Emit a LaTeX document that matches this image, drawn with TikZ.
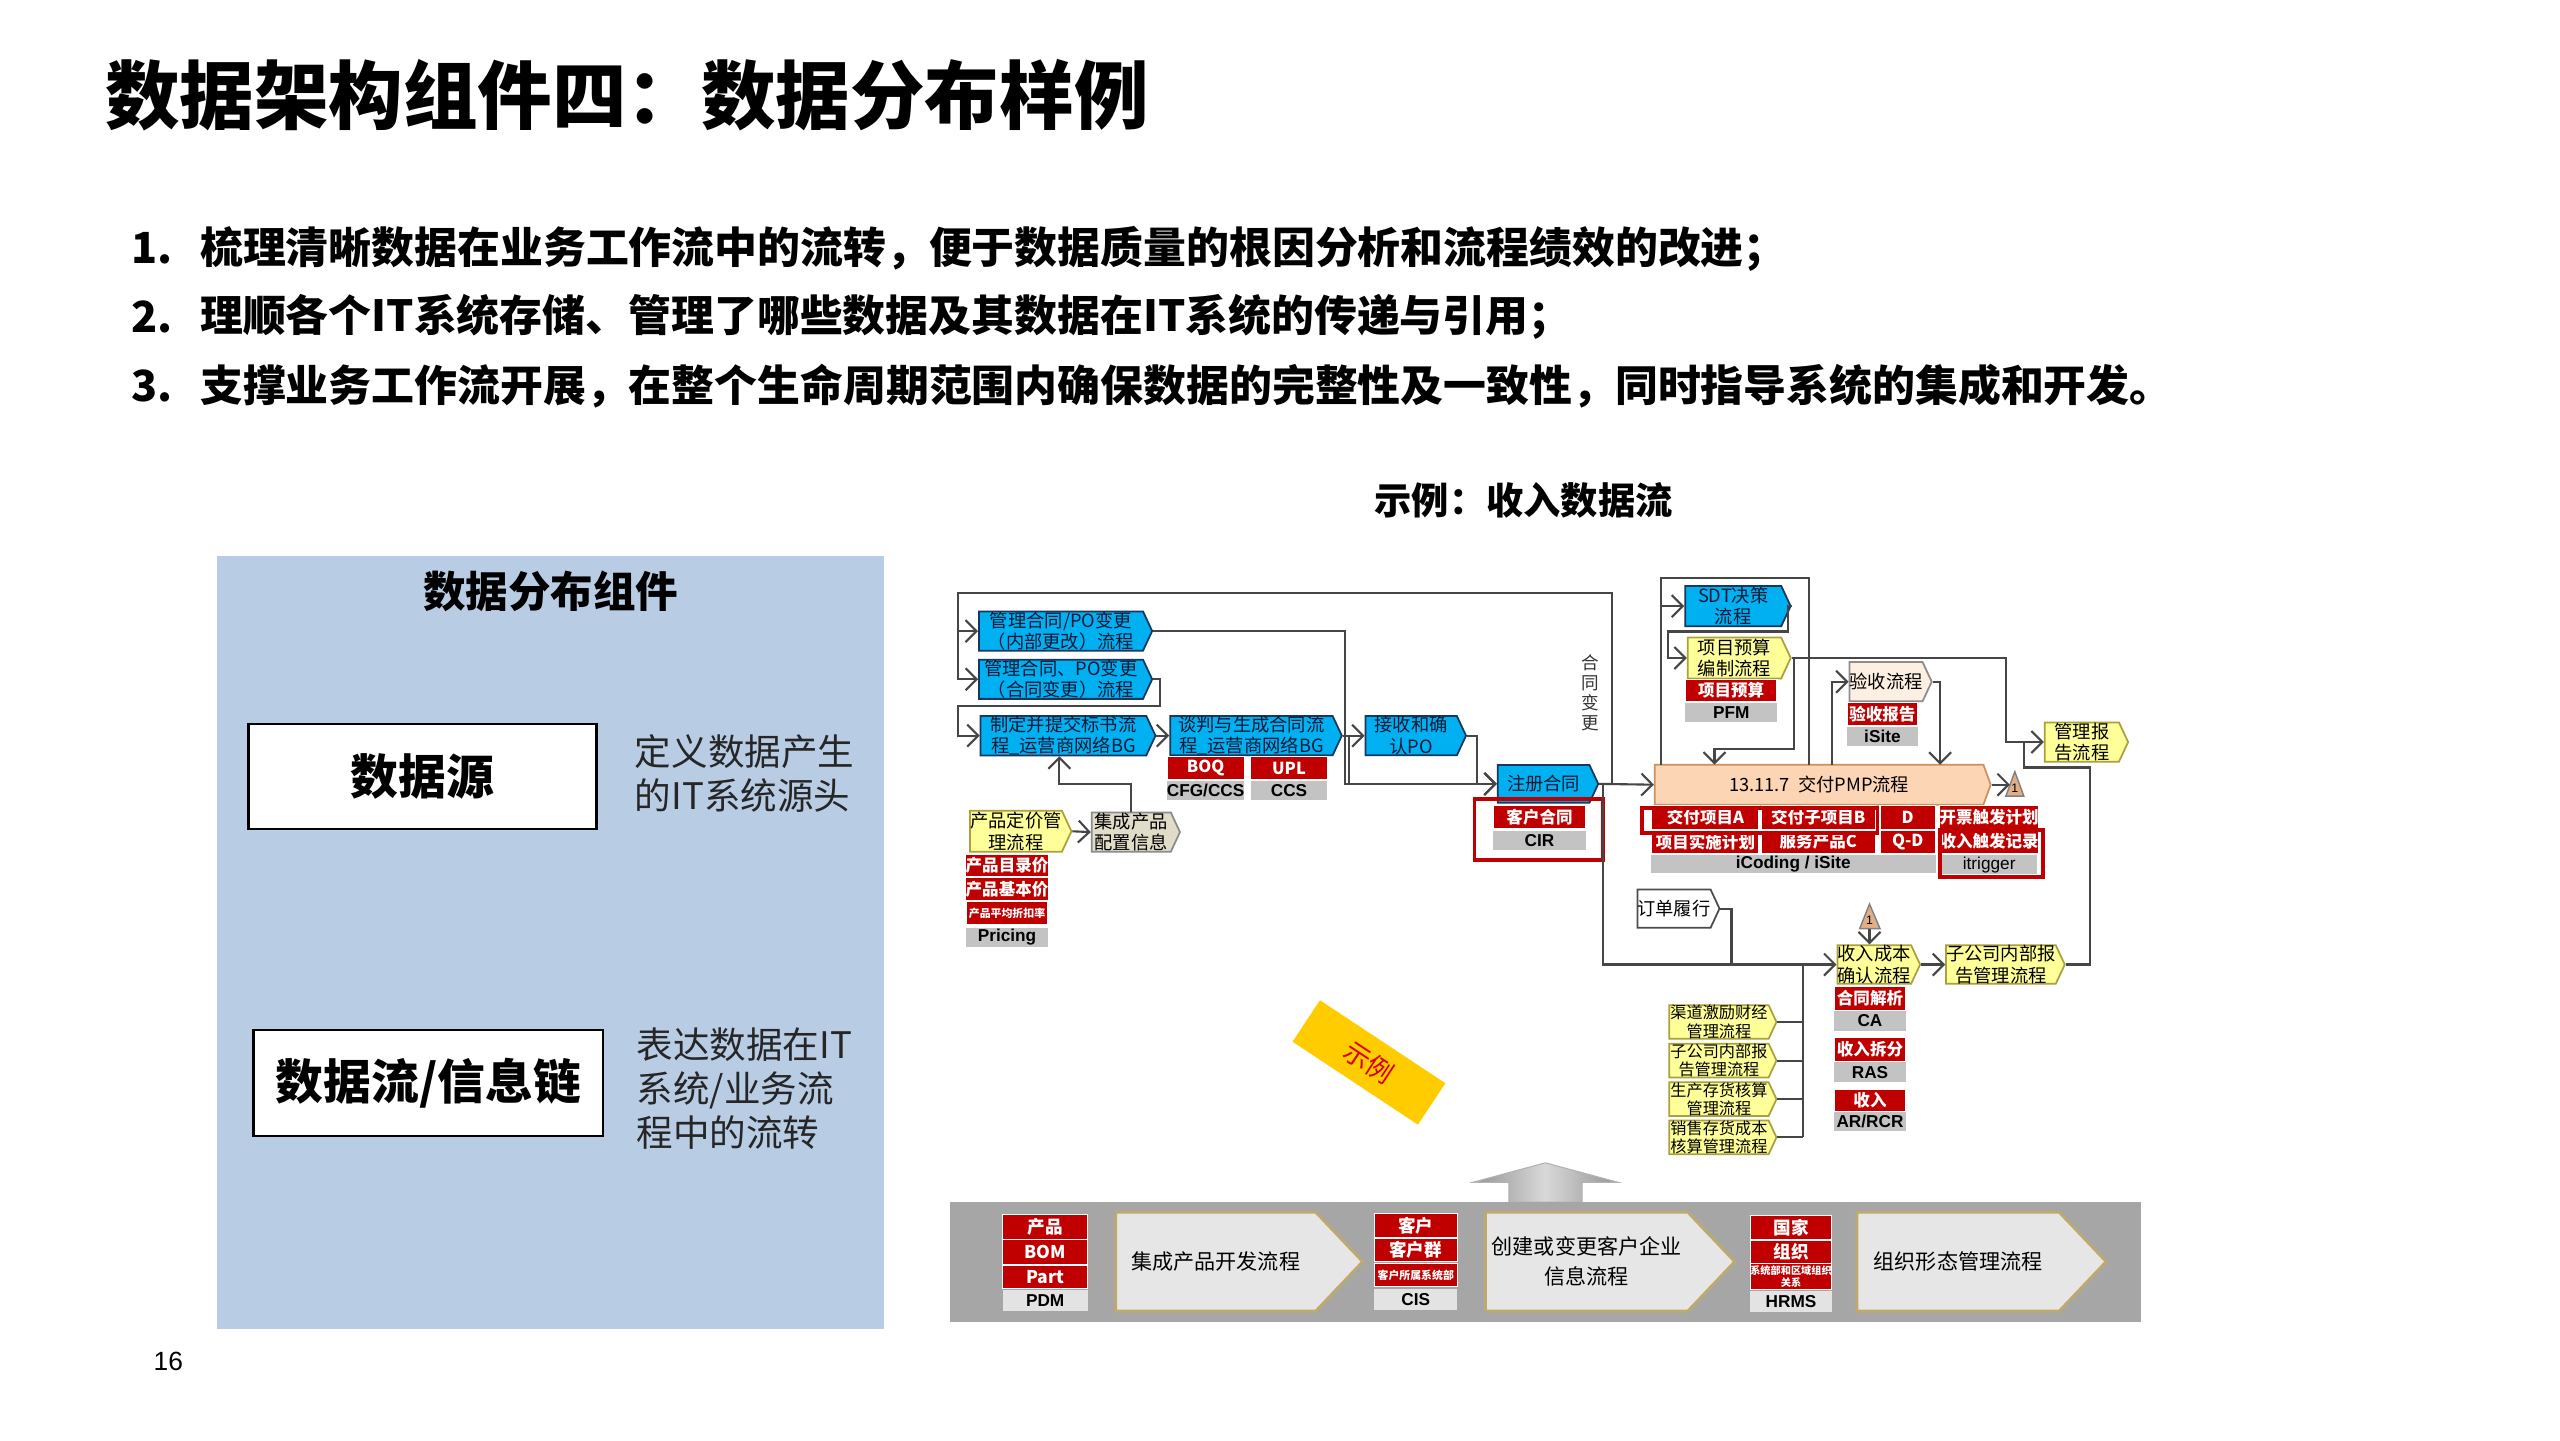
\documentclass[tikz,border=0pt]{standalone}
\usepackage{fontspec}
\setmainfont{Noto Sans CJK SC}
\newfontfamily\arialf{Liberation Sans}
\usepackage{tikz}
\usetikzlibrary{shapes,arrows.meta,backgrounds}
\usetikzlibrary{shapes.geometric, shapes.symbols}
\newcommand\upx{0.4651pt}
\definecolor{panelblue}{RGB}{184,204,228}
\definecolor{procblue}{RGB}{0,176,240}
\definecolor{procline}{RGB}{23,55,94}
\definecolor{proctext}{RGB}{15,25,55}
\definecolor{procyellow}{RGB}{255,255,153}
\definecolor{yline}{RGB}{170,160,60}
\definecolor{cellred}{RGB}{192,0,0}
\definecolor{cellgray}{RGB}{195,195,195}
\definecolor{pmporange}{RGB}{252,213,180}
\definecolor{pmpline}{RGB}{205,145,95}
\definecolor{beige}{RGB}{224,220,200}
\definecolor{cream}{RGB}{253,240,226}
\definecolor{bandgray}{RGB}{166,166,166}
\definecolor{bandfill}{RGB}{230,230,230}
\definecolor{bandline}{RGB}{190,170,110}
\definecolor{tagyellow}{RGB}{255,204,0}
\definecolor{trifill}{RGB}{225,175,135}
\definecolor{wireline}{RGB}{70,70,70}
\tikzset{
  sz/.style 2 args={ minimum width=#1*\upx, minimum height=#2*\upx }
}
\tikzset{
  bproc/.style={ signal, signal to=east, signal from=nowhere, signal pointer angle=130, draw=procline, line width=0.5pt, fill=procblue, text=proctext, inner sep=0pt, align=center, font=\fontsize{5.2}{6.1}\selectfont }
}
\tikzset{
  yproc/.style={ bproc, draw=yline, fill=procyellow, text=black }
}
\tikzset{
  bandproc/.style={ signal, signal to=east, signal from=nowhere, signal pointer angle=93, draw=bandline, line width=0.8pt, fill=bandfill, inner sep=0pt, align=center, font=\fontsize{6}{8.5}\selectfont }
}
\tikzset{
  redcell/.style={ rectangle, draw=white, line width=0.3pt, fill=cellred, text=white, inner sep=0pt, align=center, font=\fontsize{4.7}{5.2}\selectfont\bfseries }
}
\tikzset{
  graycell/.style={ rectangle, fill=cellgray, inner sep=0pt, font=\arialf\fontsize{4.9}{5.2}\selectfont\bfseries }
}
\tikzset{
  conn/.style={ draw=wireline, line width=0.6pt },
  redframe/.style={ draw=cellred, line width=1.1pt }
}
\tikzset{
  srcbox/.style={ draw=black, line width=0.7pt, fill=white, font=\fontsize{13.6}{15}\selectfont\bfseries },
  desc/.style={ anchor=west, align=left, inner sep=0pt, text=black!85, font=\fontsize{10.4}{12.6}\selectfont },
  bullet/.style={ anchor=west, inner sep=0pt, font=\fontsize{12.2}{14}\selectfont\bfseries }
}

\begin{document}
\begin{tikzpicture}[x=0.16347mm, y=-0.16347mm, >={Straight Barb[length=1.1mm,width=2.2mm]}]
  \fill[white] (0,0) rectangle (1566,881);
  \useasboundingbox (0,0) rectangle (1566,881);

  \node[anchor=west, inner sep=0pt, font=\fontsize{21.2}{24}\selectfont\bfseries] (title) at (64,58) {数据架构组件四：数据分布样例};
  \node[bullet] (n1) at (80,152) {1.};
  \node[bullet] (b1) at (122,152) {梳理清晰数据在业务工作流中的流转，便于数据质量的根因分析和流程绩效的改进；};
  \node[bullet] (n2) at (80,194) {2.};
  \node[bullet] (b2) at (122,194) {理顺各个IT系统存储、管理了哪些数据及其数据在IT系统的传递与引用；};
  \node[bullet] (n3) at (80,236) {3.};
  \node[bullet] (b3) at (122,236) {支撑业务工作流开展，在整个生命周期范围内确保数据的完整性及一致性，同时指导系统的集成和开发。};
  \node[font=\fontsize{10.6}{12}\selectfont\bfseries] (exhead) at (932,306) {示例：收入数据流};

  \node[fill=panelblue, sz={408}{473}] (panel) at (337,576.5) {};
  \node[font=\fontsize{12.1}{14}\selectfont\bfseries] (ptitle) at (337,362) {数据分布组件};
  \node[srcbox, sz={213}{64}] (src) at (258.5,475) {数据源};
  \node[srcbox, sz={214}{65}] (flow) at (262,662.5) {数据流/信息链};
  \node[desc] (srcdesc) at (388,473) {定义数据产生\\的IT系统源头};
  \node[desc] (flowdesc) at (389,666) {表达数据在IT\\系统/业务流\\程中的流转};
  \node[font=\arialf\fontsize{7.5}{9}\selectfont] (pageno) at (103,833) {16};

  \node[bproc, sz={106}{24}] (pA) at (649,386) {管理合同/PO变更\\（内部更改）流程};
  \node[bproc, sz={106}{24}] (pB) at (649,415.5) {管理合同、PO变更\\（合同变更）流程};
  \node[bproc, sz={107}{24}] (pC) at (650.5,450) {制定并提交标书流\\程\_运营商网络BG};
  \node[bproc, sz={105}{24}] (pD) at (765.5,450) {谈判与生成合同流\\程\_运营商网络BG};
  \node[bproc, sz={61.5}{24}] (pE) at (863.25,450) {接收和确\\认PO};
  \node[bproc, sz={61.5}{23}] (pF) at (944.25,479.5) {注册合同};
  \node[bproc, sz={64.5}{24.5}] (pSDT) at (1060.25,370.75) {SDT决策\\流程};

  \node[redcell, sz={47}{13.6}] (boq) at (737.5,469.8) {BOQ};
  \node[graycell, sz={47}{11.7}] (cfg) at (737.5,483.5) {CFG/CCS};
  \node[redcell, sz={47}{13.6}] (upl) at (788.5,469.8) {UPL};
  \node[graycell, sz={47}{11.7}] (ccs) at (788.5,483.5) {CCS};
  \node[redcell, sz={56.5}{14.4}] (khht) at (941.75,499.8) {客户合同};
  \node[graycell, sz={56.5}{11.5}] (cir) at (941.75,514.25) {CIR};
  \draw[redframe] (902,489) rectangle (980.5,526);
  \node[font=\fontsize{5}{5.7}\selectfont, align=center, inner sep=0pt, text=black!80] (htbg) at (972.5,424) {合\\同\\变\\更};

  \node[yproc, sz={62}{25}] (pG) at (621.5,508.5) {产品定价管\\理流程};
  \node[yproc, sz={54}{24}, draw=black!45, fill=beige] (pH) at (692,509) {集成产品\\配置信息};
  \node[redcell, sz={50}{13.5}] (ml) at (616,529.25) {产品目录价};
  \node[redcell, sz={50}{13.6}] (jb) at (616,543.8) {产品基本价};
  \node[redcell, sz={50}{13.8}, font=\fontsize{3.1}{3.5}\selectfont\bfseries] (zk) at (616,558.6) {产品平均折扣率};
  \node[graycell, sz={50}{12}] (pricing) at (616,573.5) {Pricing};

  \node[yproc, sz={63}{25}] (pI) at (1061,402.5) {项目预算\\编制流程};
  \node[redcell, sz={56}{14}] (xmys) at (1059,422.4) {项目预算};
  \node[graycell, sz={56}{12}] (pfm) at (1059,435.75) {PFM};
  \node[yproc, sz={47}{24}, draw=black!45, fill=cream] (pJ) at (1153.7,417) {验收流程};
  \node[redcell, sz={43}{13.8}] (ysbg) at (1151.5,436.9) {验收报告};
  \node[graycell, sz={43}{11.7}] (isite) at (1151.5,450.25) {iSite};
  \node[yproc, sz={51}{24}] (pK) at (1273.5,453.9) {管理报\\告流程};
  \node[bproc, sz={205.5}{24.5}, draw=pmpline, fill=pmporange, text=black, signal pointer angle=140, font=\fontsize{5.2}{6}\selectfont] (pPMP) at (1112.75,480) {13.11.7\ \ 交付PMP流程};

  \node[redcell, sz={65.5}{15}] (ga) at (1043.25,500) {交付项目A};
  \node[redcell, sz={69.5}{15}] (gb) at (1112.25,500) {交付子项目B};
  \node[redcell, sz={34}{15}] (gd) at (1167,500) {D};
  \node[redcell, sz={58.4}{15}] (gkp) at (1216.8,500) {开票触发计划};
  \node[redcell, sz={65.5}{13.9}] (gss) at (1043.25,514.85) {项目实施计划};
  \node[redcell, sz={69.5}{13.9}] (gfw) at (1112.25,514.85) {服务产品C};
  \node[redcell, sz={34}{13.9}] (gqd) at (1167,514.85) {Q-D};
  \node[redcell, sz={58.4}{13.9}] (gsr) at (1216.8,514.85) {收入触发记录};
  \node[graycell, sz={174}{11.3}] (icod) at (1097,528.5) {iCoding / iSite};
  \node[graycell, sz={58.4}{11.5}, font=\arialf\fontsize{4.9}{5.2}\selectfont] (itrig) at (1216.8,529) {itrigger};
  \draw[redframe] (1004.5,494.1) rectangle (1148.5,509.5);
  \draw[redframe] (1186.8,507.5) rectangle (1249.6,536.6);
  \draw[fill=trifill, draw=black!50, line width=0.4pt] (1232.5,472) -- (1238,487) -- (1227,487) -- cycle;
  \node[inner sep=0pt, font=\arialf\fontsize{3.5}{4}\selectfont] (t1) at (1232.5,482) {1};

  \node[yproc, sz={49}{23.5}, draw=black!70, fill=white] (pL) at (1024,555.8) {订单履行};
  \draw[fill=trifill, draw=black!50, line width=0.4pt] (1143.6,553) -- (1150,568) -- (1137.6,568) -- cycle;
  \node[inner sep=0pt, font=\arialf\fontsize{3.5}{4}\selectfont] (t2) at (1143.6,563) {1};
  \node[yproc, sz={50.6}{23.6}] (pM) at (1146.5,590) {收入成本\\确认流程};
  \node[yproc, sz={67.5}{23.6}] (pN) at (1224,590) {子公司内部报\\告管理流程};
  \node[redcell, sz={43.8}{14.4}] (htjx) at (1143.9,610.8) {合同解析};
  \node[graycell, sz={43.8}{12.4}] (ca) at (1143.9,624.5) {CA};
  \node[redcell, sz={43.8}{14.4}] (srcf) at (1143.9,642) {收入拆分};
  \node[graycell, sz={43.8}{12.1}] (ras) at (1143.9,655.85) {RAS};
  \node[redcell, sz={43.8}{13.4}] (sr) at (1143.9,673.3) {收入};
  \node[graycell, sz={43.8}{11.5}] (arrcr) at (1143.9,686.15) {AR/RCR};
  \node[yproc, sz={65.6}{18.5}, font=\fontsize{4.6}{5.3}\selectfont] (k1) at (1051.5,625.15) {渠道激励财经\\管理流程};
  \node[yproc, sz={65.6}{18.5}, font=\fontsize{4.6}{5.3}\selectfont] (k2) at (1051.5,648.75) {子公司内部报\\告管理流程};
  \node[yproc, sz={65.6}{18.5}, font=\fontsize{4.6}{5.3}\selectfont] (k3) at (1051.5,672.35) {生产存货核算\\管理流程};
  \node[yproc, sz={65.6}{18.5}, font=\fontsize{4.6}{5.3}\selectfont] (k4) at (1051.5,695.75) {销售存货成本\\核算管理流程};

  \node[fill=tagyellow, rotate=-33.5, sz={92}{30.4}, text=red!85!black, font=\fontsize{7.5}{8}\selectfont] (tag) at (837.4,649.9) {示例};

  \shadedraw[left color=gray!85, right color=gray!85, middle color=gray!30, draw=gray!60, line width=0.3pt] (901,723.2) -- (945.3,711.3) -- (989.7,723.2) -- (967.8,723.2) -- (967.8,735.4) -- (923,735.4) -- (923,723.2) -- cycle;
  \fill[bandgray] (581,735.4) rectangle (1309.7,808.7);
  \node[bandproc, sz={151}{60.5}] (ipd) at (743.7,771.75) {集成产品开发流程};
  \node[bandproc, sz={152.4}{60.5}] (cust) at (970.6,771.75) {创建或变更客户企业\\信息流程};
  \node[bandproc, sz={152.4}{60.5}] (org) at (1197.8,771.75) {组织形态管理流程};
  \node[redcell, sz={51.9}{14.8}, font=\fontsize{5}{6}\selectfont\bfseries] (cp) at (639.35,750.6) {产品};
  \node[redcell, sz={51.9}{15}, font=\fontsize{5}{6}\selectfont\bfseries] (bom) at (639.35,765.9) {BOM};
  \node[redcell, sz={51.9}{14.4}, font=\fontsize{5}{6}\selectfont\bfseries] (part) at (639.35,781.2) {Part};
  \node[graycell, sz={51.9}{12.9}, fill=gray!22] (pdm) at (639.35,795.65) {PDM};
  \node[redcell, sz={50.9}{14.4}, font=\fontsize{5}{6}\selectfont\bfseries] (kh) at (866.05,749.7) {客户};
  \node[redcell, sz={50.9}{14.4}, font=\fontsize{5}{6}\selectfont\bfseries] (khq) at (866.05,764.7) {客户群};
  \node[redcell, sz={50.9}{14.4}, font=\fontsize{3.1}{3.5}\selectfont\bfseries] (khxt) at (866.05,779.9) {客户所属系统部};
  \node[graycell, sz={50.9}{12.7}, fill=gray!22] (cis) at (866.05,794.75) {CIS};
  \node[redcell, sz={50}{14.8}, font=\fontsize{5}{6}\selectfont\bfseries] (gj) at (1095.6,751) {国家};
  \node[redcell, sz={50}{13.7}, font=\fontsize{5}{6}\selectfont\bfseries] (zz) at (1095.6,765.85) {组织};
  \node[redcell, sz={50}{16.1}, font=\fontsize{2.9}{3.4}\selectfont\bfseries] (xtb) at (1095.6,780.75) {系统部和区域组织\\关系};
  \node[graycell, sz={50}{12.9}, fill=gray!22] (hrms) at (1095.6,796.25) {HRMS};

  \coordinate (tL) at (586,363);
  \coordinate (tR) at (986,363);
  \coordinate (bL) at (586,432);
  \coordinate (bR) at (709.5,432);
  \coordinate (aX) at (822.6,479.5);
  \coordinate (dX) at (825,479.5);
  \coordinate (eX) at (903.5,479.5);
  \coordinate (hK) at (648,479.7);
  \coordinate (fD) at (980.5,590);
  \coordinate (lD) at (1059.2,590);
  \coordinate (cT) at (1102.9,590);
  \coordinate (cB) at (1102.9,695.75);
  \coordinate (sBL) at (1016,467.75);
  \coordinate (sTL) at (1016,353.8);
  \coordinate (sTR) at (1106.7,353.8);
  \coordinate (sBR) at (1106.7,467.75);
  \coordinate (sd1) at (1093.9,386.3);
  \coordinate (sd2) at (1020.6,386.3);
  \coordinate (i1) at (1097.4,458);
  \coordinate (i2) at (1048.8,467.75);
  \coordinate (i3) at (1227,453.9);
  \coordinate (q1) at (1278.4,469.5);
  \coordinate (q2) at (1238,469.5);
  \coordinate (j1) at (1120.4,467.75);
  \coordinate (j2) at (1186.8,467.75);
  \coordinate (t1in) at (1229.5,480);
  \coordinate (t2out) at (1143.6,568);

  \draw[conn,->] (pF.east) -| (tR) -- (tL) |- (pB.west);
  \draw[conn,->] (tL |- pA.west) -- (pA.west);
  \draw[conn,->] (pB.east) -| (bR) -- (bL) |- (pC.west);
  \draw[conn,->] (pC.east) -- (pD.west);
  \draw[conn,->] (pD.east) -- (pE.west);
  \draw[conn,->] (pA.east) -| (aX) -- (pF.west);
  \draw[conn,->] (pD.east) -| (dX) -- (pF.west);
  \draw[conn,->] (pE.east) -| (eX) -- (pF.west);
  \draw[conn,->] (pG.east) -- (pH.west);
  \draw[conn,->] (pH.north) |- (hK) -- (pC.south -| hK);
  \draw[conn,->] (pF.east) -- (pPMP.west);
  \draw[conn,->] (pF.east) -| (fD) -- (pM.west);
  \draw[conn] (pL.east) -| (lD);
  \draw[conn] (cB) -- (cT);
  \draw[conn] (k1.east) -- (k1.east -| cT);
  \draw[conn] (k2.east) -- (k2.east -| cT);
  \draw[conn] (k3.east) -- (k3.east -| cT);
  \draw[conn] (k4.east) -- (k4.east -| cT);
  \draw[conn] (sBL) -- (sTL) -- (sTR) -- (sBR);
  \draw[conn,->] (sBL |- pSDT.west) -- (pSDT.west);
  \draw[conn,->] (pSDT.east) -| (sd1) -- (sd2) |- (pI.west);
  \draw[conn,->] (pI.east) -| (i1) -| (i2);
  \draw[conn,->] (pI.east) -| (i3) -- (pK.west);
  \draw[conn] (pN.east) -| (q1) -- (q2) -- (q2 |- pK.west);
  \draw[conn,->] (j1) |- (pJ.west);
  \draw[conn,->] (pJ.east) -| (j2);
  \draw[conn,->] (pPMP.east) -- (t1in);
  \draw[conn,->] (t2out) -- (t2out |- pM.north);
  \draw[conn,->] (pM.east) -- (pN.west);
\end{tikzpicture}
\end{document}
